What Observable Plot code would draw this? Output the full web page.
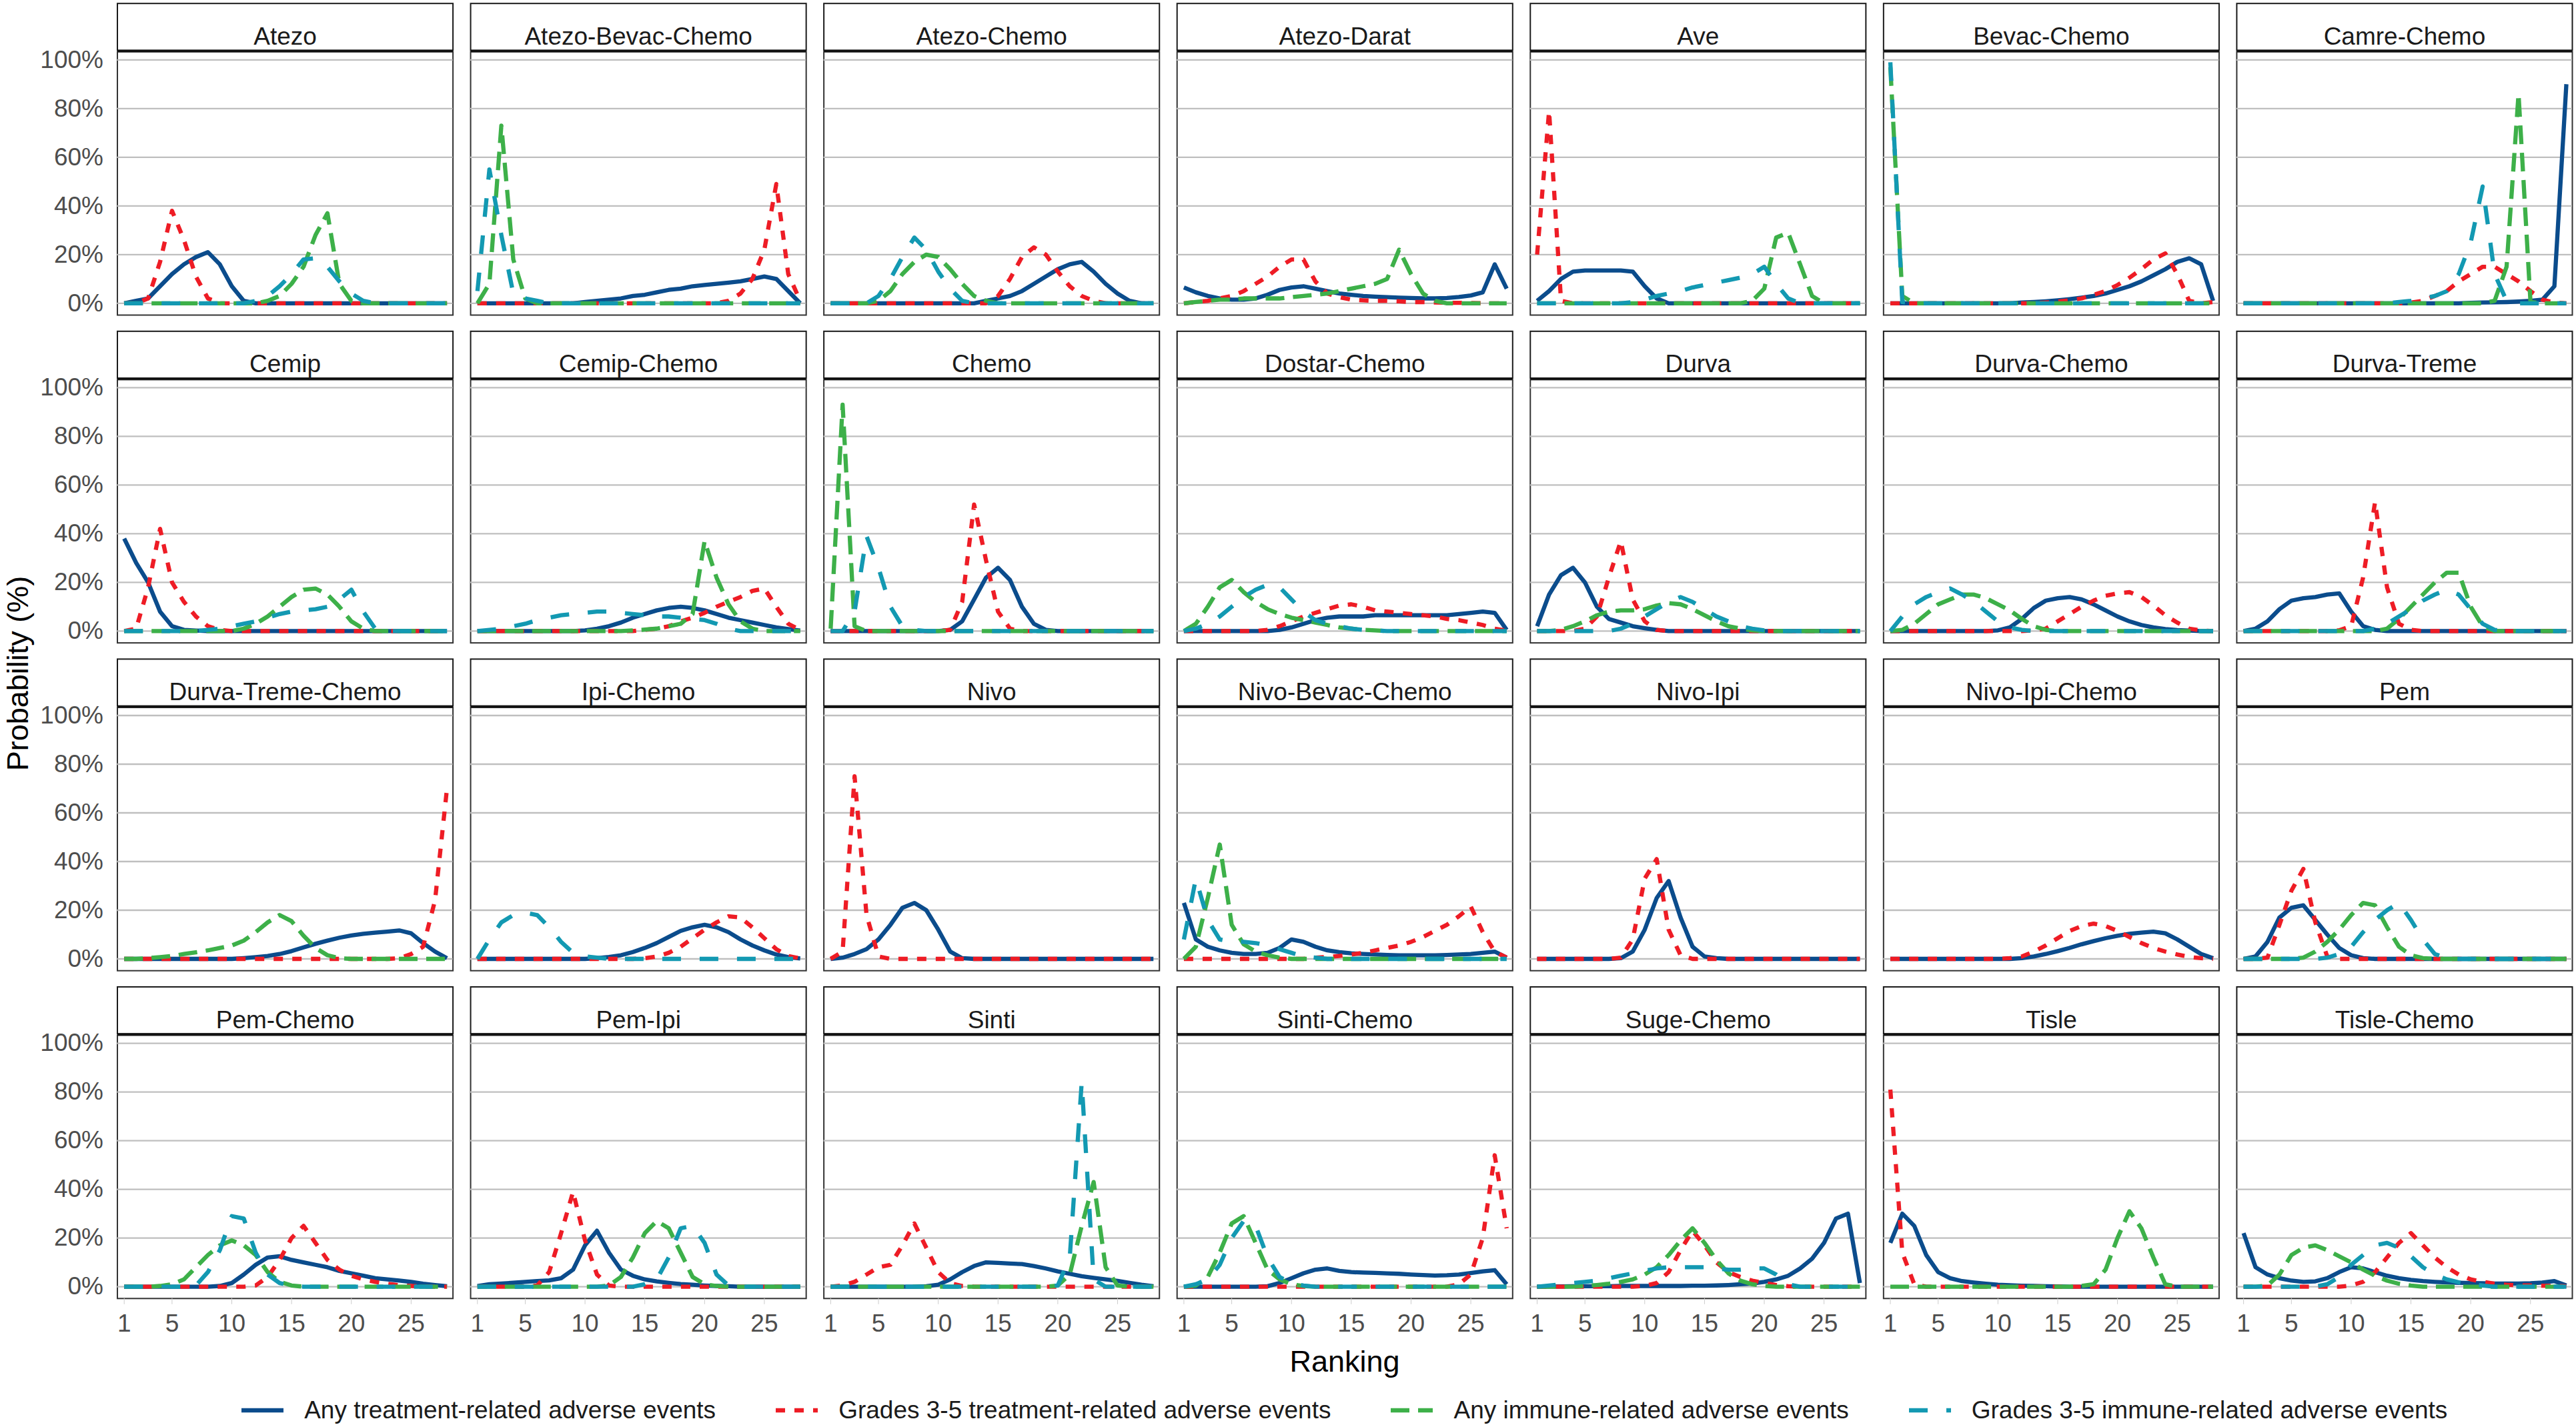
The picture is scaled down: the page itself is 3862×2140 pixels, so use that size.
<!DOCTYPE html>
<html>
<head>
<meta charset="utf-8">
<script src="https://cdn.jsdelivr.net/npm/d3@7"></script>
<script src="https://cdn.jsdelivr.net/npm/@observablehq/plot@0.6"></script>
<style>
html, body { margin: 0; padding: 0; background: #fff; overflow: hidden; }
body { width: 3862px; height: 2140px; font-family: "Liberation Sans", Arial, sans-serif; }
#chart svg { display: block; }
#legend { box-sizing: border-box; width: 3862px; height: 70px; padding: 20px 6px 0 175.5px;
  display: flex; justify-content: center; align-items: center; font-size: 37px; color: #1a1a1a; }
.item { display: flex; align-items: center; margin: 0 45px; white-space: nowrap; }
.item svg { margin-right: 31px; display: block; }
</style>
</head>
<body>
<div id="chart"></div>
<div id="legend"></div>
<script>
// ---------------- DATA ----------------
const treatments = [
  "Atezo", "Atezo-Bevac-Chemo", "Atezo-Chemo", "Atezo-Darat", "Ave", "Bevac-Chemo", "Camre-Chemo",
  "Cemip", "Cemip-Chemo", "Chemo", "Dostar-Chemo", "Durva", "Durva-Chemo", "Durva-Treme",
  "Durva-Treme-Chemo", "Ipi-Chemo", "Nivo", "Nivo-Bevac-Chemo", "Nivo-Ipi", "Nivo-Ipi-Chemo", "Pem",
  "Pem-Chemo", "Pem-Ipi", "Sinti", "Sinti-Chemo", "Suge-Chemo", "Tisle", "Tisle-Chemo"
];
const ranks = [1,2,3,4,5,6,7,8,9,10,11,12,13,14,15,16,17,18,19,20,21,22,23,24,25,26,27,28];
const xTicks = [1, 5, 10, 15, 20, 25];
const yTicks = [0, 20, 40, 60, 80, 100];
const outcomes = [
  "Any treatment-related adverse events",
  "Grades 3-5 treatment-related adverse events",
  "Any immune-related adverse events",
  "Grades 3-5 immune-related adverse events"
];

// Probability (%) by rank 1..28, one row per treatment (same order as treatments)
const anyTRAE = [
  [0,1,2,7,12,16,19, 21,16,7,1,0,0,0, 0,0,0,0,0,0,0, 0,0,0,0,0,0,0],
  [0,0,0,0,0,0,0, 0,0,0.5,1,1.5,2,3, 3.5,4.5,5.5,6,7,7.5,8, 8.5,9,10,11,10,5,0],
  [0,0,0,0,0,0,0, 0,0,0,0,0,0,1, 2,3,5,8,11,14,16, 17,13,8,4,1,0,0],
  [6.5,4.5,3,2,1.5,1.5,2, 3.5,5.5,6.5,7,6,5,4, 3.5,3,2.7,2.5,2.3,2.2,2, 2,2.2,2.6,3.2,4.5,16,6],
  [1,5,10,13,13.5,13.5,13.5, 13.5,13,7,2,0,0,0, 0,0,0,0,0,0,0, 0,0,0,0,0,0,0],
  [0,0,0,0,0,0,0, 0,0,0,0,0.3,0.5,0.8, 1.2,1.7,2.3,3,4,5.5,7, 9,11.5,14,17,18.5,16,1],
  [0,0,0,0,0,0,0, 0,0,0,0,0,0,0, 0,0,0,0,0,0.2,0.3, 0.4,0.5,0.7,1,1.5,7,90],
  [38,28,20,8,2,0.5,0.2, 0,0,0,0,0,0,0, 0,0,0,0,0,0,0, 0,0,0,0,0,0,0],
  [0,0,0,0,0,0,0, 0,0,0.3,1,2,3.5,5.5, 7,8.5,9.5,10,9.5,8.5,7, 5.5,4.5,3.5,2.5,1.5,0.8,0.2],
  [0,0,0,0,0,0,0, 0,0,0,0.5,4,13,22, 26,21,10,3,0.5,0,0, 0,0,0,0,0,0,0],
  [0,0,0,0,0,0,0, 0,0.5,1.5,3,4.5,5.5,6, 6,6,6.5,6.5,6.5,6.5,6.5, 6.5,6.5,7,7.5,8,7.5,0.5],
  [2,15,23,26,20,10,5, 3.5,2,1.2,0.5,0,0,0, 0,0,0,0,0,0,0, 0,0,0,0,0,0,0],
  [0,0,0,0,0,0,0, 0,0,0.3,1.5,5,9.5,12.5, 13.5,14,13,11,8.5,6,4, 2.5,1.5,0.8,0.4,0.2,0,0],
  [0,1,4,9,12.5,13.5,14, 15,15.5,8,2,0.5,0,0, 0,0,0,0,0,0,0, 0,0,0,0,0,0,0],
  [0,0,0,0,0,0,0, 0,0,0,0.3,0.7,1.2,2, 3.2,4.7,6.2,7.5,8.7,9.6,10.3, 10.8,11.2,11.7,10.5,6.5,3,0.3],
  [0,0,0,0,0,0,0, 0,0,0,0.3,0.8,1.5,2.8, 4.5,6.5,9,11.5,13,14,13, 11,8,5.5,3.5,1.8,0.7,0.2],
  [0,0.5,2,4,8,14,21, 23,20,12,3,0.3,0,0, 0,0,0,0,0,0,0, 0,0,0,0,0,0,0],
  [23,8,5,3.5,2.5,2,2, 2.5,4.5,8,7,5,3.5,2.8, 2.3,2,1.8,1.6,1.5,1.5,1.5, 1.5,1.6,1.8,2,2.5,3,0.5],
  [0,0,0,0,0,0,0, 0.3,3,12,25,32,17,5, 1,0.3,0,0,0,0,0, 0,0,0,0,0,0,0],
  [0,0,0,0,0,0,0, 0,0,0,0,0.3,1,2, 3.2,4.5,6,7.3,8.5,9.5,10.3, 10.8,11.2,10.5,8,5,2,0.3],
  [0,1,7,17,21,22,16, 10,4.5,1.5,0.3,0,0,0, 0,0,0,0,0,0,0, 0,0,0,0,0,0,0],
  [0,0,0,0,0,0,0, 0,0.3,1.5,5,9,12,12.5, 11,10,9,8,6.5,5.5,4.5, 3.5,3,2.5,2,1.2,0.7,0.2],
  [0.3,1,1.3,1.6,2,2.3,2.6, 3.5,7,17,23,14,7,4.5, 3,2.2,1.6,1.1,0.8,0.5,0.3, 0.2,0,0,0,0,0,0],
  [0,0,0,0,0,0,0, 0,0.2,0.8,3,6,8.5,10, 9.8,9.5,9.3,8.5,7.5,6.3,5.3, 4.3,3.6,3,2.4,1.6,0.8,0.2],
  [0,0,0,0,0,0,0, 0.2,1.5,3.5,5.5,7,7.5,6.5, 6,5.8,5.7,5.5,5.3,5,4.8, 4.6,4.7,5,5.6,6.3,6.8,1],
  [0,0.1,0.1,0.2,0.2,0.2,0.2, 0.3,0.3,0.3,0.3,0.3,0.3,0.4, 0.4,0.5,0.7,1,1.3,2,3, 4.5,7.5,11.5,18,28,30,1.5],
  [18,30,25,13,6,3.5,2.3, 1.7,1.2,0.8,0.6,0.4,0.3,0.2, 0.1,0,0,0,0,0,0, 0,0,0,0,0,0,0],
  [22,8,5,3.5,2.5,2,2.2, 3.5,6,8,7.5,6,4.5,3.5, 2.8,2.3,2,1.8,1.6,1.5,1.4, 1.3,1.3,1.3,1.4,1.7,2.3,0.5]
];

const severeTRAE = [
  [0,0,2,17,38,26,11, 2,0,0,0,0,0,0, 0,0,0,0,0,0,0, 0,0,0,0,0,0,0],
  [0,0,0,0,0,0,0, 0,0,0,0,0,0,0, 0,0,0,0,0,0,0, 1,4,10,22,49,12,1],
  [0,0,0,0,0,0,0, 0,0,0,0,0,0,0, 3,10,19,23,20,13,7, 3,1,0,0,0,0,0],
  [0,0.5,1,2,3,5,8, 11,15,18,18,9,4,2.5, 1.5,1.2,1,1,0.8,0.5,0.5, 0.3,0.2,0.2,0.1,0,0,0],
  [20,79,1,0,0,0,0, 0,0,0,0,0,0,0, 0,0,0,0,0,0,0, 0,0,0,0,0,0,0],
  [0,0,0,0,0,0,0, 0,0,0,0,0,0,0.3, 0.7,1.2,2,3.5,5,7.5,10.5, 14,18,20.5,12,1,0,0.5],
  [0,0,0,0,0,0,0, 0,0,0,0,0,0,0, 0.3,1,3,5,9,12,15, 15,12,9,5,1.5,0.3,0],
  [0,1,18,42,20,12,6, 2,0.5,0,0,0,0,0, 0,0,0,0,0,0,0, 0,0,0,0,0,0,0],
  [0,0,0,0,0,0,0, 0,0,0,0,0,0,0, 0.5,1,2,4,5.5,7.5,10, 12,14,16.5,17.5,10,3,0.5],
  [0,0,0,0,0,0,0, 0,0,0,0.5,12,52,29, 8,1,0,0,0,0,0, 0,0,0,0,0,0,0],
  [0,0,0,0,0,0,0, 0.5,2,4,6,7.5,9,10.5, 11,10,8.5,8,7.5,7,6.5, 6,5,4.5,3.5,2.5,1,0.2],
  [0,0,0,0,1,6,22, 37,13,4,0.5,0,0,0, 0,0,0,0,0,0,0, 0,0,0,0,0,0,0],
  [0,0,0,0,0,0,0, 0,0,0,0,0,0.3,1, 4,7,10,12.5,14.5,15.5,16, 14,10.5,6.5,3.5,1,0.3,0],
  [0,0,0,0,0,0,0, 0,0.3,2,22,53,18,3, 0.5,0,0,0,0,0,0, 0,0,0,0,0,0,0],
  [0,0,0,0,0,0,0, 0,0,0,0,0,0,0, 0,0,0,0,0,0,0, 0,0,0.3,2,5,24,70],
  [0,0,0,0,0,0,0, 0,0,0,0,0,0,0, 0.3,1,2.5,5,8.5,12,15, 17.5,17,13,8.5,4,1.2,0.2],
  [0,3,75,18,1,0,0, 0,0,0,0,0,0,0, 0,0,0,0,0,0,0, 0,0,0,0,0,0,0],
  [0,0,0,0,0,0,0, 0,0,0,0,0.5,0.8,1.2, 1.8,2.5,3.5,4.5,5.5,7,9, 11.5,14,17.5,21.5,11,3,0.5],
  [0,0,0,0,0,0,0, 0.5,8,33,41,12,1.5,0, 0,0,0,0,0,0,0, 0,0,0,0,0,0,0],
  [0,0,0,0,0,0,0, 0,0,0,0.3,1,3,5.5, 8.5,11.5,13.5,14.5,13.5,11.5,9, 6.5,4.5,3,1.8,0.8,0.3,0],
  [0,0,0.5,14,28,37,15, 1,0,0,0,0,0,0, 0,0,0,0,0,0,0, 0,0,0,0,0,0,0],
  [0,0,0,0,0,0,0, 0,0,0,0,0.5,4,11, 20,25,18,11,7,4.5,3, 2,1.2,0.6,0.3,0,0,0],
  [0,0,0,0,0,0.5,6, 22,39,19,5,0.5,0,0, 0,0,0,0,0,0,0, 0,0,0,0,0,0,0],
  [0,0.5,2,5,8,9,17, 26,16,6,1.5,0.3,0,0, 0,0,0,0,0,0,0, 0,0,0,0,0,0,0],
  [0,0,0,0,0,0,0, 0,0,0,0,0,0,0, 0,0,0,0,0,0,0, 0,0,1,5,20,54,24],
  [0,0,0,0,0,0,0, 0,0,0.3,1.5,6,15,23, 17,10,6,4,2.5,1.5,0.7, 0.2,0,0,0,0,0,0],
  [81,14,1,0,0,0,0, 0,0,0,0,0,0,0, 0,0,0,0,0,0,0, 0,0,0,0,0,0,0],
  [0,0,0,0,0,0,0, 0,0,0.5,2,6,12,18, 22,17,12,8,5,3,2, 1.2,0.8,0.6,0.5,0.4,0.3,0.2]
];

const anyIRAE = [
  [0,0,0,0,0,0,0, 0,0,0,0,0,1,3, 8,15,28,37,8,1,0, 0,0,0,0,0,0,0],
  [0,8,73,18,2,0,0, 0,0,0,0,0,0,0, 0,0,0,0,0,0,0, 0,0,0,0,0,0,0],
  [0,0,0,0,1,5,12, 17,20,19,14,8,3,1, 0,0,0,0,0,0,0, 0,0,0,0,0,0,0],
  [0,0.5,1,1.5,1.5,2,2, 2,2,2.5,3,3.5,4,5, 6,7,8,10,22,12,4, 1,0,0,0,0,0,0],
  [0,0,0,0,0,0,0, 0,0,0,0,0,0,0, 0,0,0,0,1,6,27, 29,16,3,0,0,0,0],
  [97,3,0,0,0,0,0, 0,0,0,0,0,0,0, 0,0,0,0,0,0,0, 0,0,0,0,0,0,0],
  [0,0,0,0,0,0,0, 0,0,0,0,0,0,0, 0,0,0,0,0,0,0, 1,15,86,0.5,0,0,0],
  [0,0,0,0,0,0,0, 0,0,0,1,3,6,10, 14,17,17.5,15,10,4,1, 0,0,0,0,0,0,0],
  [0,0,0,0,0,0,0, 0,0,0,0,0,0,0.3, 0.6,1,2,3,7,37,22, 11,4,1,0,0,0,0],
  [1,93,2,0,0,0,0, 0,0,0,0,0,0,0, 0,0,0,0,0,0,0, 0,0,0,0,0,0,0],
  [0,3,10,18,21,16,12, 9,7,5.5,4.5,3.5,2.5,1.5, 1,0.5,0.3,0,0,0,0, 0,0,0,0,0,0,0],
  [0,0,0.5,2,4,6.5,8, 8.5,8.5,9,10.5,11.5,11,9, 6.5,4,2,1,0.3,0,0, 0,0,0,0,0,0,0],
  [0,0.5,3,7,11,13,15, 15,13.5,11,8.5,5,2,0.5, 0,0,0,0,0,0,0, 0,0,0,0,0,0,0],
  [0,0,0,0,0,0,0, 0,0,0,0,0,1,5, 10,15,20,24,24,10,2, 0,0,0,0,0,0,0],
  [0,0,0.3,0.7,1.2,2,2.7, 3.5,4.5,5.5,7.5,11,15,18, 15.5,9.5,4.5,1.5,0.3,0,0, 0,0,0,0,0,0,0],
  null,
  null,
  [0,5,25,47,14,6,3, 1.5,0.5,0,0,0,0,0, 0,0,0,0,0,0,0, 0,0,0,0,0,0,0],
  null,
  null,
  [0,0,0,0,0,0.5,3, 7,12,18,23,22,13,5, 1.5,0.3,0,0,0,0,0, 0,0,0,0,0,0,0],
  [0,0,0,0.3,1,3,8, 13,17,19,17,13,6,2, 0.5,0,0,0,0,0,0, 0,0,0,0,0,0,0],
  [0,0,0,0,0,0,0, 0,0,0,0,0.5,4,12, 22,27,24,14,4,1,0.3, 0,0,0,0,0,0,0],
  [0,0,0,0,0,0,0, 0,0,0,0,0,0,0, 0,0,0,0,0,0.5,5, 25,43,8,0.5,0,0,0],
  [0,0.5,4,14,26,29,18, 7,3,1,0.3,0,0,0, 0,0,0,0,0,0,0, 0,0,0,0,0,0,0],
  [0,0,0,0,0.3,0.7,1.2, 2,3,5,8,13,19,24, 18,11,5.5,2.5,1,0.3,0, 0,0,0,0,0,0,0],
  [0,0,0,0,0,0,0, 0,0,0,0,0,0,0, 0,0,0.3,1,7,20,31, 24,12,1,0,0,0,0],
  [0,0,0.5,5,13,16,17, 15,12.5,10,7,4.5,2.5,1.2, 0.5,0,0,0,0,0,0, 0,0,0,0,0,0,0]
];

const severeIRAE = [
  [0,0,0,0,0,0,0, 0,0,0,0,1,3,7, 12,18,18.5,15,9,4,1, 0,0,0,0,0,0,0],
  [5,55,28,4,2,1,0, 0,0,0,0,0,0,0, 0,0,0,0,0,0,0, 0,0,0,0,0,0,0],
  [0,0,0,0,3,10,19, 27,22,13,6,1,0,0, 0,0,0,0,0,0,0, 0,0,0,0,0,0,0],
  null,
  [0,0,0,0,0,0,0, 0,0.5,1.5,3,4,5,6.5, 7.5,8.5,9.5,10.5,12,15,8, 2,0,0,0,0,0,0],
  [99,0.5,0,0,0,0,0, 0,0,0,0,0,0,0, 0,0,0,0,0,0,0, 0,0,0,0,0,0,0],
  [0,0,0,0,0,0,0, 0,0,0,0,0,0,0.5, 1,2,3,5,12,25,48, 12,1,0,0,0,0,0],
  [0,0,0,0,0,0,0, 0.5,1,2,3,4,5.5,7, 8,8.5,9,10,13,17,8, 1,0,0,0,0,0,0],
  [0,0.5,1,2,3,4.5,5.5, 6.5,7,7.5,8,8,7.5,7, 6.5,6,6,5.5,5,4.5,3, 1,0,0,0,0,0,0],
  [0,0,8,39,26,10,2, 0.5,0,0,0,0,0,0, 0,0,0,0,0,0,0, 0,0,0,0,0,0,0],
  [0,1,3,6,10,14,17, 19,18,13,8,4.5,3,2, 1,0.5,0.3,0,0,0,0, 0,0,0,0,0,0,0],
  [0,0,0,0,0,0,0, 1,3,6,9,12,14,12, 9,6,4,2,1,0.3,0, 0,0,0,0,0,0,0],
  [0,6,11,14,16,17.5,15, 12,8,4,1.5,0.5,0,0, 0,0,0,0,0,0,0, 0,0,0,0,0,0,0],
  [0,0,0,0,0,0,0, 0,0,0,0,1,3,6, 9,12.5,15,17,15,9,3, 0.5,0,0,0,0,0,0],
  null,
  [0,8,15,18,19,18,13, 7,2.5,1,0.5,0,0,0, 0,0,0,0,0,0,0, 0,0,0,0,0,0,0],
  null,
  [8,33,16,8,7,7,6.5, 5.5,4,2.5,1,0.5,0,0, 0,0,0,0,0,0,0, 0,0,0,0,0,0,0],
  null,
  null,
  [0,0,0,0,0,0,0, 0.5,2,5,11,16,20,23, 16,8,2,0.3,0,0,0, 0,0,0,0,0,0,0],
  [0,0,0,0,0,0,0.5, 6,15,29,28,14,5,1.5, 0.3,0,0,0,0,0,0, 0,0,0,0,0,0,0],
  [0,0,0,0,0,0,0, 0,0,0,0,0,0,0, 1,3,12,24,25,18,5, 0.5,0,0,0,0,0,0],
  [0,0,0,0,0,0,0, 0,0,0,0,0,0,0, 0,0,0,0,0,0.5,12, 84,3,0,0,0,0,0],
  [0,1,3,9,20,27,25, 12,4,1.5,0.5,0,0,0, 0,0,0,0,0,0,0, 0,0,0,0,0,0,0],
  [0,0.5,1,1.5,2,2.5,3.5, 4.5,5.5,6.5,7.5,8,8,8, 8,7.5,7,7,7.5,7.5,5, 1,0,0,0,0,0,0],
  null,
  [0,0,0,0,0,0,0, 1,4,9,13,17,18,16, 12.5,8,5,3,1.8,1,0.5, 0,0,0,0,0,0,0]
];

// ---------------- STYLE ----------------
const seriesTables = [anyTRAE, severeTRAE, anyIRAE, severeIRAE];
const colors = ["#0B4C8C", "#EE1C25", "#3DB049", "#1399B2"];
const dashes = [null, "14,14", "28,13", "28,28"];
const nCols = 7;

// ---------------- BUILD ROWS ----------------
const stripRows = treatments.map((name, i) => ({name, col: i % nCols, row: Math.floor(i / nCols)}));
const lineData = seriesTables.map((table, k) => {
  const out = [];
  table.forEach((vals, i) => {
    if (!vals) return;
    vals.forEach((v, r) => out.push({
      treatment: treatments[i], col: i % nCols, row: Math.floor(i / nCols),
      rank: ranks[r], value: v, outcome: outcomes[k]
    }));
  });
  return out;
});

const W = 3862, H = 2070;
const chart = Plot.plot({
  width: W,
  height: H,
  marginLeft: 175.5,
  marginRight: 6,
  marginTop: 4.7,
  marginBottom: H - 1946.8,
  style: {fontFamily: "'Liberation Sans', Arial, sans-serif", background: "white", overflow: "visible"},
  fx: {domain: [0,1,2,3,4,5,6], axis: null, paddingInner: 0.05, paddingOuter: 0, round: false},
  fy: {domain: [0,1,2,3], axis: null, paddingInner: 0.0494, paddingOuter: 0, round: false},
  x: {domain: [0.43, 28.5]},
  y: {domain: [-4.85, 123.18]},
  marks: [
    Plot.frame({insetTop: 72.6, stroke: "#333333", strokeWidth: 2}),
    Plot.gridY(yTicks, {stroke: "#bfbfbf", strokeOpacity: 1, strokeWidth: 2.3}),
    Plot.axisY(yTicks, {tickSize: 0, tickPadding: 21, tickFormat: d => d + "%", fontSize: 37, fill: "#4d4d4d", label: null}),
    Plot.axisX(xTicks, {tickSize: 9, tickPadding: 14, fontSize: 37, fill: "#4d4d4d", stroke: "#cccccc", label: null}),
    ...lineData.map((rows, k) => Plot.line(rows, {
      fx: "col", fy: "row", x: "rank", y: "value",
      stroke: colors[k], strokeWidth: 6.3,
      strokeDasharray: dashes[k] ?? undefined,
      strokeLinecap: "butt", strokeLinejoin: "round"
    })),
    Plot.frame({insetBottom: 397, fill: "white", stroke: "#1a1a1a", strokeWidth: 2}),
    Plot.frame({insetTop: 69.5, insetBottom: 394.5, fill: "#111111", stroke: "none"}),
    Plot.text(stripRows, {fx: "col", fy: "row", text: "name", frameAnchor: "top", dy: 35.3, fontSize: 37, fill: "#1a1a1a"})
  ]
});

const svg = d3.select(chart);
svg.append("text")
  .attr("transform", "translate(42,1010) rotate(-90)")
  .attr("text-anchor", "middle")
  .attr("font-size", 45)
  .attr("fill", "#000")
  .text("Probability (%)");
svg.append("text")
  .attr("x", 2016).attr("y", 2057)
  .attr("text-anchor", "middle")
  .attr("font-size", 45)
  .attr("fill", "#000")
  .text("Ranking");

document.getElementById("chart").appendChild(chart);

// ---------------- LEGEND ----------------
const legend = d3.select("#legend");
outcomes.forEach((name, k) => {
  const item = legend.append("div").attr("class", "item");
  const s = item.append("svg").attr("width", 63).attr("height", 20);
  const ln = s.append("line")
    .attr("x1", 0).attr("x2", 63).attr("y1", 10).attr("y2", 10)
    .attr("stroke", colors[k]).attr("stroke-width", 6.3).attr("stroke-linecap", "butt");
  if (dashes[k]) ln.attr("stroke-dasharray", dashes[k]);
  item.append("span").text(name);
});
</script>
</body>
</html>
